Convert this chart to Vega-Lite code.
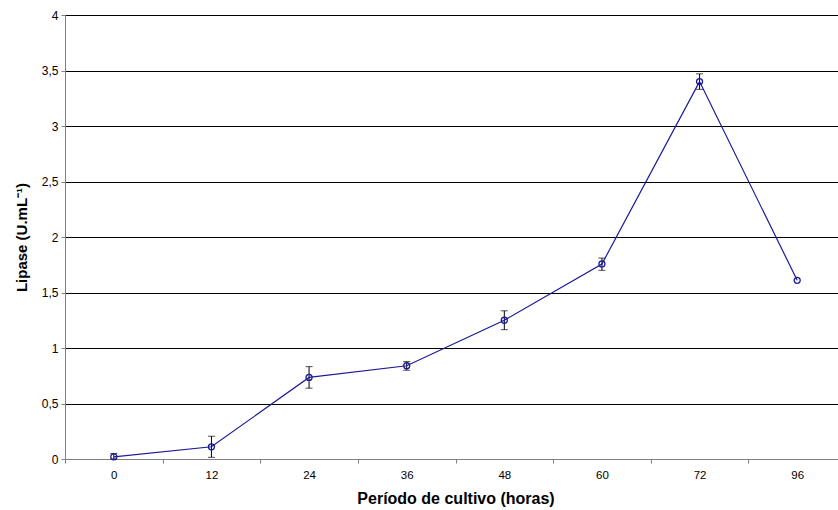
{
  "$schema": "https://vega.github.io/schema/vega-lite/v6.json",
  "autosize": {"type": "none"},
  "padding": {"left": 65, "top": 15, "right": 0, "bottom": 51},
  "width": 773,
  "height": 444,
  "background": "white",
  "data": {
    "values": [
      {"h": "0", "lipase": 0.02, "lo": 0.0, "hi": 0.05},
      {"h": "12", "lipase": 0.11, "lo": 0.015, "hi": 0.205},
      {"h": "24", "lipase": 0.735, "lo": 0.638, "hi": 0.832},
      {"h": "36", "lipase": 0.84, "lo": 0.80, "hi": 0.877},
      {"h": "48", "lipase": 1.25, "lo": 1.165, "hi": 1.335},
      {"h": "60", "lipase": 1.757, "lo": 1.70, "hi": 1.81},
      {"h": "72", "lipase": 3.40, "lo": 3.33, "hi": 3.47},
      {"h": "96", "lipase": 1.61}
    ]
  },
  "encoding": {
    "x": {
      "field": "h",
      "type": "nominal",
      "sort": null,
      "scale": {"type": "band", "paddingInner": 0, "paddingOuter": 0, "range": [0, 781]},
      "axis": {
        "title": "Período de cultivo (horas)",
        "titleFont": "Liberation Sans",
        "titleFontSize": 16,
        "titleFontWeight": "bold",
        "titleColor": "#000000",
        "titleX": 390.5,
        "titlePadding": 10,
        "labelAngle": 0,
        "labelFont": "Liberation Sans",
        "labelFontSize": 11.5,
        "labelColor": "#000000",
        "labelPadding": 6,
        "tickBand": "extent",
        "tickSize": 4,
        "tickColor": "#808080",
        "domainColor": "#808080",
        "grid": false
      }
    }
  },
  "layer": [
    {
      "mark": {"type": "rule", "color": "#000000", "strokeWidth": 1},
      "encoding": {
        "y": {
          "field": "lo",
          "type": "quantitative",
          "scale": {"domain": [0, 4], "nice": false},
          "axis": {
            "title": "Lipase (U.mL⁻¹)",
            "titleFont": "Liberation Sans",
            "titleFontSize": 15,
            "titleFontWeight": "bold",
            "titleColor": "#000000",
            "titlePadding": 12,
            "values": [0, 0.5, 1, 1.5, 2, 2.5, 3, 3.5, 4],
            "labelExpr": "replace(format(datum.value, '.1~f'), '.', ',')",
            "labelFont": "Liberation Sans",
            "labelFontSize": 12,
            "labelColor": "#000000",
            "labelPadding": 3,
            "tickSize": 4,
            "tickColor": "#808080",
            "domainColor": "#808080",
            "grid": true,
            "gridColor": "#000000",
            "gridWidth": 1,
            "gridOpacity": 1
          }
        },
        "y2": {"field": "hi"}
      }
    },
    {
      "mark": {"type": "tick", "color": "#000000", "size": 7, "thickness": 1},
      "encoding": {"y": {"field": "lo", "type": "quantitative"}}
    },
    {
      "mark": {"type": "tick", "color": "#000000", "size": 7, "thickness": 1},
      "encoding": {"y": {"field": "hi", "type": "quantitative"}}
    },
    {
      "mark": {"type": "line", "color": "#1a1a96", "strokeWidth": 1.2},
      "encoding": {"y": {"field": "lipase", "type": "quantitative"}}
    },
    {
      "mark": {"type": "point", "shape": "circle", "filled": false, "color": "#1a1a96", "size": 36, "strokeWidth": 1.3, "opacity": 1},
      "encoding": {"y": {"field": "lipase", "type": "quantitative"}}
    }
  ],
  "config": {"view": {"stroke": null}}
}
